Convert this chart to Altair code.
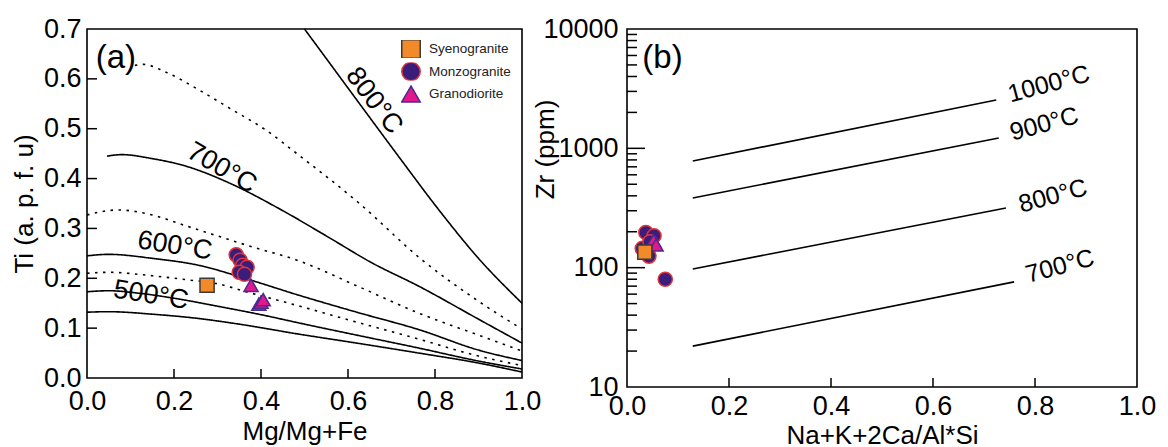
import altair as alt
import pandas as pd

FONT = "Liberation Sans"

# ---------------- Panel (a): Ti vs Mg/Mg+Fe isotherms ----------------
c800_x = [0.50, 0.56, 0.625, 0.72, 0.809, 0.90, 1.00]
c800_y = [0.70, 0.629, 0.552, 0.44, 0.337, 0.24, 0.150]

d750_x = [0.11, 0.13, 0.18, 0.257, 0.33, 0.41, 0.487, 0.625, 0.77, 0.90, 1.00]
d750_y = [0.627, 0.629, 0.614, 0.578, 0.54, 0.498, 0.447, 0.351, 0.237, 0.154, 0.098]

c700_x = [0.046, 0.08, 0.15, 0.227, 0.33, 0.441, 0.55, 0.655, 0.763, 0.90, 1.00]
c700_y = [0.445, 0.448, 0.44, 0.425, 0.39, 0.34, 0.285, 0.231, 0.184, 0.118, 0.070]

d650_x = [0.0, 0.07, 0.15, 0.228, 0.30, 0.372, 0.487, 0.62, 0.763, 0.90, 1.00]
d650_y = [0.327, 0.337, 0.327, 0.305, 0.285, 0.265, 0.235, 0.185, 0.130, 0.086, 0.054]

c600_x = [0.0, 0.05, 0.15, 0.257, 0.37, 0.487, 0.62, 0.763, 0.90, 1.00]
c600_y = [0.245, 0.248, 0.24, 0.226, 0.198, 0.166, 0.132, 0.097, 0.056, 0.035]

d550_x = [0.0, 0.05, 0.15, 0.23, 0.30, 0.37, 0.46, 0.62, 0.763, 0.90, 1.00]
d550_y = [0.21, 0.212, 0.205, 0.197, 0.189, 0.172, 0.151, 0.112, 0.078, 0.044, 0.025]

c500_x = [0.0, 0.05, 0.12, 0.20, 0.30, 0.40, 0.50, 0.62, 0.763, 0.90, 1.00]
c500_y = [0.173, 0.175, 0.17, 0.16, 0.144, 0.127, 0.108, 0.086, 0.060, 0.034, 0.018]

c450_x = [0.0, 0.05, 0.15, 0.25, 0.35, 0.487, 0.62, 0.763, 0.90, 1.00]
c450_y = [0.132, 0.133, 0.128, 0.12, 0.108, 0.088, 0.070, 0.050, 0.030, 0.012]

curves_a = [
    ("c800", "solid", c800_x, c800_y),
    ("d750", "dotted", d750_x, d750_y),
    ("c700", "solid", c700_x, c700_y),
    ("d650", "dotted", d650_x, d650_y),
    ("c600", "solid", c600_x, c600_y),
    ("d550", "dotted", d550_x, d550_y),
    ("c500", "solid", c500_x, c500_y),
    ("c450", "solid", c450_x, c450_y),
]

# sample points, panel (a)
rock_types = ["Syenogranite", "Monzogranite", "Granodiorite"]
a_syeno_x = [0.276]
a_syeno_y = [0.186]
a_monzo_x = [0.343, 0.352, 0.358, 0.368, 0.350, 0.362]
a_monzo_y = [0.247, 0.236, 0.226, 0.222, 0.212, 0.208]
a_grano_x = [0.377, 0.395, 0.400, 0.405]
a_grano_y = [0.186, 0.148, 0.152, 0.157]

# isotherm labels, panel (a)
a_lab_text = ["800°C", "700°C", "600°C", "500°C"]
a_lab_x = [0.66, 0.31, 0.202, 0.147]
a_lab_y = [0.556, 0.421, 0.265, 0.166]
a_lab_angle = [53, 30, 9, 9]

a_yticks = [0.1, 0.2, 0.3, 0.4, 0.5, 0.6]
a_xticks = [0.2, 0.4, 0.6, 0.8]

# ---------------- Panel (b): Zr vs M ----------------
b_line_names = ["1000", "900", "800", "700"]
b_line_x0 = [0.129, 0.129, 0.129, 0.129]
b_line_x1 = [0.724, 0.729, 0.743, 0.759]
b_line_y0 = [783, 384, 97.5, 22]
b_line_y1 = [2543, 1222, 316, 76]

b_syeno_x = [0.035]
b_syeno_y = [135]
b_monzo_x = [0.037, 0.053, 0.030, 0.043, 0.075, 0.045]
b_monzo_y = [197, 185, 145, 125, 80, 165]
b_grano_x = [0.052, 0.057]
b_grano_y = [168, 155]

b_lab_text = ["1000°C", "900°C", "800°C", "700°C"]
b_lab_x = [0.827, 0.818, 0.835, 0.849]
b_lab_y = [3467, 1600, 399, 103]
b_lab_angle = [345, 345, 345, 345]

b_major = [100, 1000]
b_minor = [v * m for m in [10, 100, 1000] for v in range(2, 10)]
b_xticks = [0.2, 0.4, 0.6, 0.8]

# ---------------- build tables ----------------
rows = []
for name, style, xs, ys in curves_a:
    for i, (x, y) in enumerate(zip(xs, ys)):
        rows.append({"curve": name, "style": style, "x": x, "y": y, "o": i})
df_curves_a = pd.DataFrame(rows)

def pts(groups):
    r = []
    for rock, xs, ys in groups:
        for x, y in zip(xs, ys):
            r.append({"rock": rock, "x": x, "y": y})
    return pd.DataFrame(r)

df_pts_a = pts([("Syenogranite", a_syeno_x, a_syeno_y),
                ("Monzogranite", a_monzo_x, a_monzo_y),
                ("Granodiorite", a_grano_x, a_grano_y)])
df_pts_b = pts([("Syenogranite", b_syeno_x, b_syeno_y),
                ("Monzogranite", b_monzo_x, b_monzo_y),
                ("Granodiorite", b_grano_x, b_grano_y)])
order_map = {"Monzogranite": 0, "Granodiorite": 1, "Syenogranite": 2}
df_pts_a["ord"] = df_pts_a["rock"].map(order_map)
df_pts_b["ord"] = df_pts_b["rock"].map(order_map)

df_lab_a = pd.DataFrame({"t": a_lab_text, "x": a_lab_x, "y": a_lab_y, "a": a_lab_angle})
df_lab_b = pd.DataFrame({"t": b_lab_text, "x": b_lab_x, "y": b_lab_y, "a": b_lab_angle})

rows = []
for n, x0, x1, y0, y1 in zip(b_line_names, b_line_x0, b_line_x1, b_line_y0, b_line_y1):
    rows.append({"line": n, "x": x0, "y": y0})
    rows.append({"line": n, "x": x1, "y": y1})
df_lines_b = pd.DataFrame(rows)

fill_scale = alt.Scale(domain=rock_types, range=["#F28A2A", "#3A1D7A", "#E4188C"])
stroke_scale = alt.Scale(domain=rock_types, range=["#3a3a3a", "#E2343A", "#4A2A8F"])
shape_scale = alt.Scale(domain=rock_types, range=["square", "circle", "triangle-up"])

legend_a = alt.Legend(
    title=None, orient="top-right", offset=11,
    labelFont=FONT, labelFontSize=13.5, labelColor="#222", symbolSize=340,
    symbolStrokeWidth=1.5, rowPadding=4.5, clipHeight=18, labelOffset=8,
)

def axis_common(**kw):
    base = dict(ticks=False, domain=False, grid=False, labelFlush=False,
                labelFont=FONT, titleFont=FONT,
                labelFontSize=27, titleFontSize=26, labelColor="black", titleColor="black",
                titleFontWeight="normal")
    base.update(kw)
    return alt.Axis(**base)

def points_layer(df, legend):
    return alt.Chart(df).mark_point(filled=True, opacity=1, strokeWidth=1.5, size=200).encode(
        x="x:Q", y="y:Q",
        fill=alt.Fill("rock:N", scale=fill_scale, legend=legend),
        stroke=alt.Stroke("rock:N", scale=stroke_scale, legend=legend),
        shape=alt.Shape("rock:N", scale=shape_scale, legend=legend),
        order="ord:Q",
    )

# ---------------- Panel (a) ----------------
xa = alt.X("x:Q", scale=alt.Scale(domain=[0, 1], nice=False),
           axis=axis_common(values=[0, 0.2, 0.4, 0.6, 0.8, 1.0], format=".1f",
                            labelPadding=10, title="Mg/Mg+Fe", titlePadding=4))
ya = alt.Y("y:Q", scale=alt.Scale(domain=[0, 0.7], nice=False),
           axis=axis_common(values=[0, 0.1, 0.2, 0.3, 0.4, 0.5, 0.6, 0.7], format=".1f",
                            labelPadding=6, title="Ti (a. p. f. u)", titlePadding=6))

lines_a = alt.Chart(df_curves_a).mark_line(color="black", strokeWidth=1.6, interpolate="monotone").encode(
    x=xa, y=ya, detail="curve:N", order="o:Q",
    strokeDash=alt.StrokeDash("style:N", scale=alt.Scale(domain=["solid", "dotted"], range=[[1, 0], [2.5, 5.5]]), legend=None),
)

labels_a = alt.Chart(df_lab_a).mark_text(font=FONT, fontSize=27, color="black").encode(
    x="x:Q", y="y:Q", text="t:N", angle=alt.Angle("a:Q", scale=None),
)

panel_tag_a = alt.Chart(pd.DataFrame({"t": ["(a)"], "x": [0.02], "y": [0.642]})).mark_text(
    font=FONT, fontSize=33, align="left", color="black").encode(x="x:Q", y="y:Q", text="t:N")

yt_a = alt.Chart(pd.DataFrame({"v": a_yticks})).mark_rule(color="black", strokeWidth=1.5, x2Offset=10).encode(
    y="v:Q", x=alt.datum(0), x2=alt.datum(0))
xt_a = alt.Chart(pd.DataFrame({"v": a_xticks})).mark_rule(color="black", strokeWidth=1.5, y2Offset=-9).encode(
    x="v:Q", y=alt.datum(0), y2=alt.datum(0))

panel_a = alt.layer(lines_a, yt_a, xt_a, labels_a, panel_tag_a, points_layer(df_pts_a, legend_a)).properties(width=435, height=349)

# ---------------- Panel (b) ----------------
xb = alt.X("x:Q", scale=alt.Scale(domain=[0, 1], nice=False),
           axis=axis_common(values=[0, 0.2, 0.4, 0.6, 0.8, 1.0], format=".1f",
                            labelPadding=6, title="Na+K+2Ca/Al*Si", titlePadding=3))
yb = alt.Y("y:Q", scale=alt.Scale(type="log", domain=[10, 10000], nice=False),
           axis=axis_common(values=[10, 100, 1000, 10000], format="d",
                            labelPadding=9, title="Zr (ppm)", titleX=-69, titleY=120))

lines_b = alt.Chart(df_lines_b).mark_line(color="black", strokeWidth=1.6).encode(
    x=xb, y=yb, detail="line:N")

labels_b = alt.Chart(df_lab_b).mark_text(font=FONT, fontSize=25, color="black").encode(
    x="x:Q", y="y:Q", text="t:N", angle=alt.Angle("a:Q", scale=None))

panel_tag_b = alt.Chart(pd.DataFrame({"t": ["(b)"], "x": [0.03], "y": [5700]})).mark_text(
    font=FONT, fontSize=33, align="left", color="black").encode(x="x:Q", y="y:Q", text="t:N")

ymaj_b = alt.Chart(pd.DataFrame({"v": b_major})).mark_rule(color="black", strokeWidth=1.5, x2Offset=18).encode(
    y="v:Q", x=alt.datum(0), x2=alt.datum(0))
ymin_b = alt.Chart(pd.DataFrame({"v": b_minor})).mark_rule(color="black", strokeWidth=1.5, x2Offset=10).encode(
    y="v:Q", x=alt.datum(0), x2=alt.datum(0))
xt_b = alt.Chart(pd.DataFrame({"v": b_xticks})).mark_rule(color="black", strokeWidth=1.5, y2Offset=-9).encode(
    x="v:Q", y=alt.datum(10), y2=alt.datum(10))

panel_b = alt.layer(lines_b, ymaj_b, ymin_b, xt_b, labels_b, panel_tag_b, points_layer(df_pts_b, None)).properties(width=510, height=358)

chart = alt.hconcat(panel_a, panel_b, spacing=105, bounds="flush").resolve_legend(
    fill="independent", stroke="independent", shape="independent"
).properties(
    padding={"left": 10, "top": 14, "right": 0, "bottom": 0},
    background="white",
).configure_view(stroke="black", strokeWidth=1.6)

chart.save("out.html", embed_options={"renderer": "svg", "actions": False})
